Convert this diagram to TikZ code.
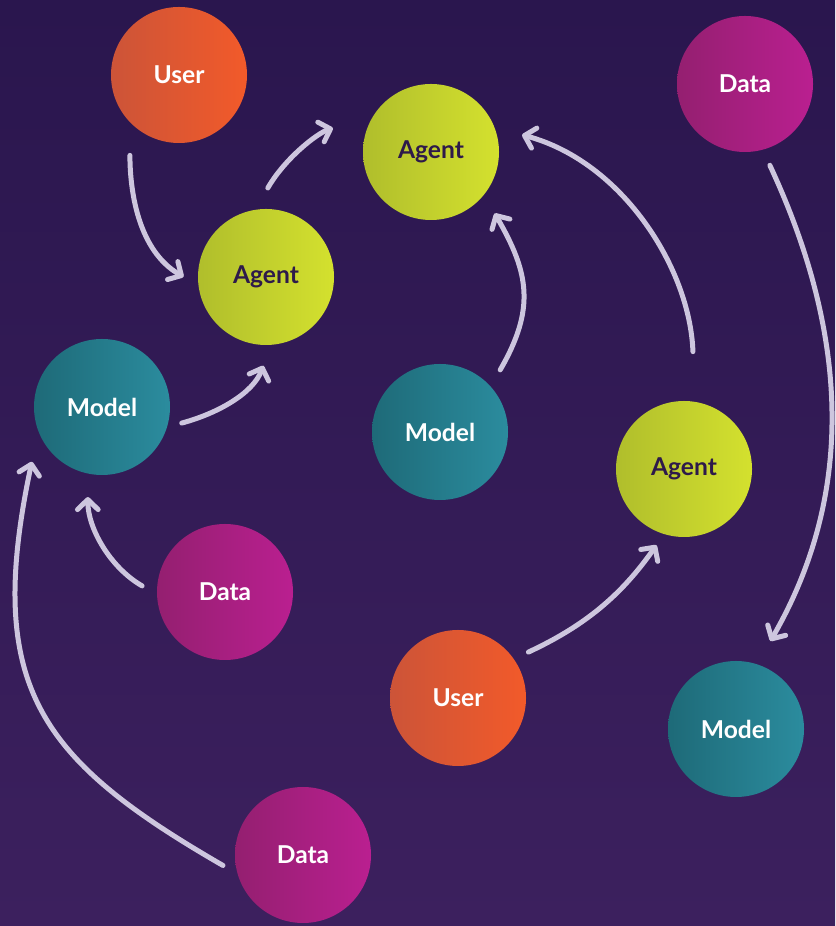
\documentclass[tikz,border=0pt]{standalone}
\usepackage{fontspec}
\setmainfont{Lato}
\usepackage{tikz}
\usetikzlibrary{arrows.meta}
\usepackage{xcolor}
\definecolor{bgtop}{RGB}{42,22,78}
\definecolor{bgbottom}{RGB}{60,32,94}
\definecolor{userleft}{RGB}{204,84,56}
\definecolor{userright}{RGB}{242,90,42}
\definecolor{agentleft}{RGB}{176,190,44}
\definecolor{agentright}{RGB}{212,225,46}
\definecolor{modelleft}{RGB}{30,106,120}
\definecolor{modelright}{RGB}{43,140,158}
\definecolor{dataleft}{RGB}{148,31,112}
\definecolor{dataright}{RGB}{186,31,144}
\definecolor{agenttext}{RGB}{46,26,74}
\definecolor{flowgray}{RGB}{205,198,222}
\tikzset{%
    bubble/.style={%
        circle, draw=none, inner sep=0pt, minimum size=4.08cm,
        font=\bfseries\fontsize{21}{24}\selectfont
    },
    user bubble/.style={bubble, left color=userleft, right color=userright, text=white},
    agent bubble/.style={bubble, left color=agentleft, right color=agentright, text=agenttext},
    model bubble/.style={bubble, left color=modelleft, right color=modelright, text=white},
    data bubble/.style={bubble, left color=dataleft, right color=dataright, text=white},
    flow/.style={%
        draw=flowgray, line width=0.15cm, line cap=round,
        -{Straight Barb[length=0.3cm, width=0.62cm, round]}
    }
}

\begin{document}
\begin{tikzpicture}[x=0.03cm, y=0.03cm]
    \shade[top color=bgtop, bottom color=bgbottom] (0,0) rectangle (835,926);
    \useasboundingbox (0,0) rectangle (835,926);
    % bubbles
    \node[user bubble]  (user1)  at (179,851) {User};
    \node[agent bubble] (agent1) at (431,774) {Agent};
    \node[data bubble]  (data1)  at (745,842) {Data};
    \node[agent bubble] (agent2) at (266,649) {Agent};
    \node[model bubble] (model1) at (102,519) {Model};
    \node[model bubble] (model2) at (440,494) {Model};
    \node[agent bubble] (agent3) at (684,457) {Agent};
    \node[data bubble]  (data2)  at (225,334) {Data};
    \node[user bubble]  (user2)  at (458,228) {User};
    \node[model bubble] (model3) at (736,197) {Model};
    \node[data bubble]  (data3)  at (303,71)  {Data};
    % flows
    \draw[flow, shorten <=0.99cm, shorten >=0.51cm] (user1.224) to[out=270, in=150] (agent2.187);
    \draw[flow, shorten <=0.75cm, shorten >=1.29cm] (agent2.99) to[out=60, in=198] (agent1.147);
    \draw[flow, shorten <=0.45cm, shorten >=0.66cm] (model1.343) to[out=15, in=250] (agent2.274);
    \draw[flow, shorten <=0.57cm, shorten >=0.64cm] (model2.42) to[out=60, in=300, looseness=1.2] (agent1.321);
    \draw[flow, shorten <=1.5cm, shorten >=0.85cm] (agent3.81) to[out=92, in=345] (agent1.21);
    \draw[flow, shorten <=0.51cm, shorten >=0.8cm] (data1.285) .. controls +(295:200) and +(60:200) .. (model3.72);
    \draw[flow, shorten <=0.48cm, shorten >=0.4cm] (user2.35) to[out=25, in=235] (agent3.253);
    \draw[flow, shorten <=0.51cm, shorten >=0.7cm] (data2.182) to[out=150, in=270] (model1.258);
    \draw[flow, shorten <=0.5cm, shorten >=0.93cm] (data3.196) .. controls +(150:230) and +(258:260) .. (model1.201);
\end{tikzpicture}
\end{document}
